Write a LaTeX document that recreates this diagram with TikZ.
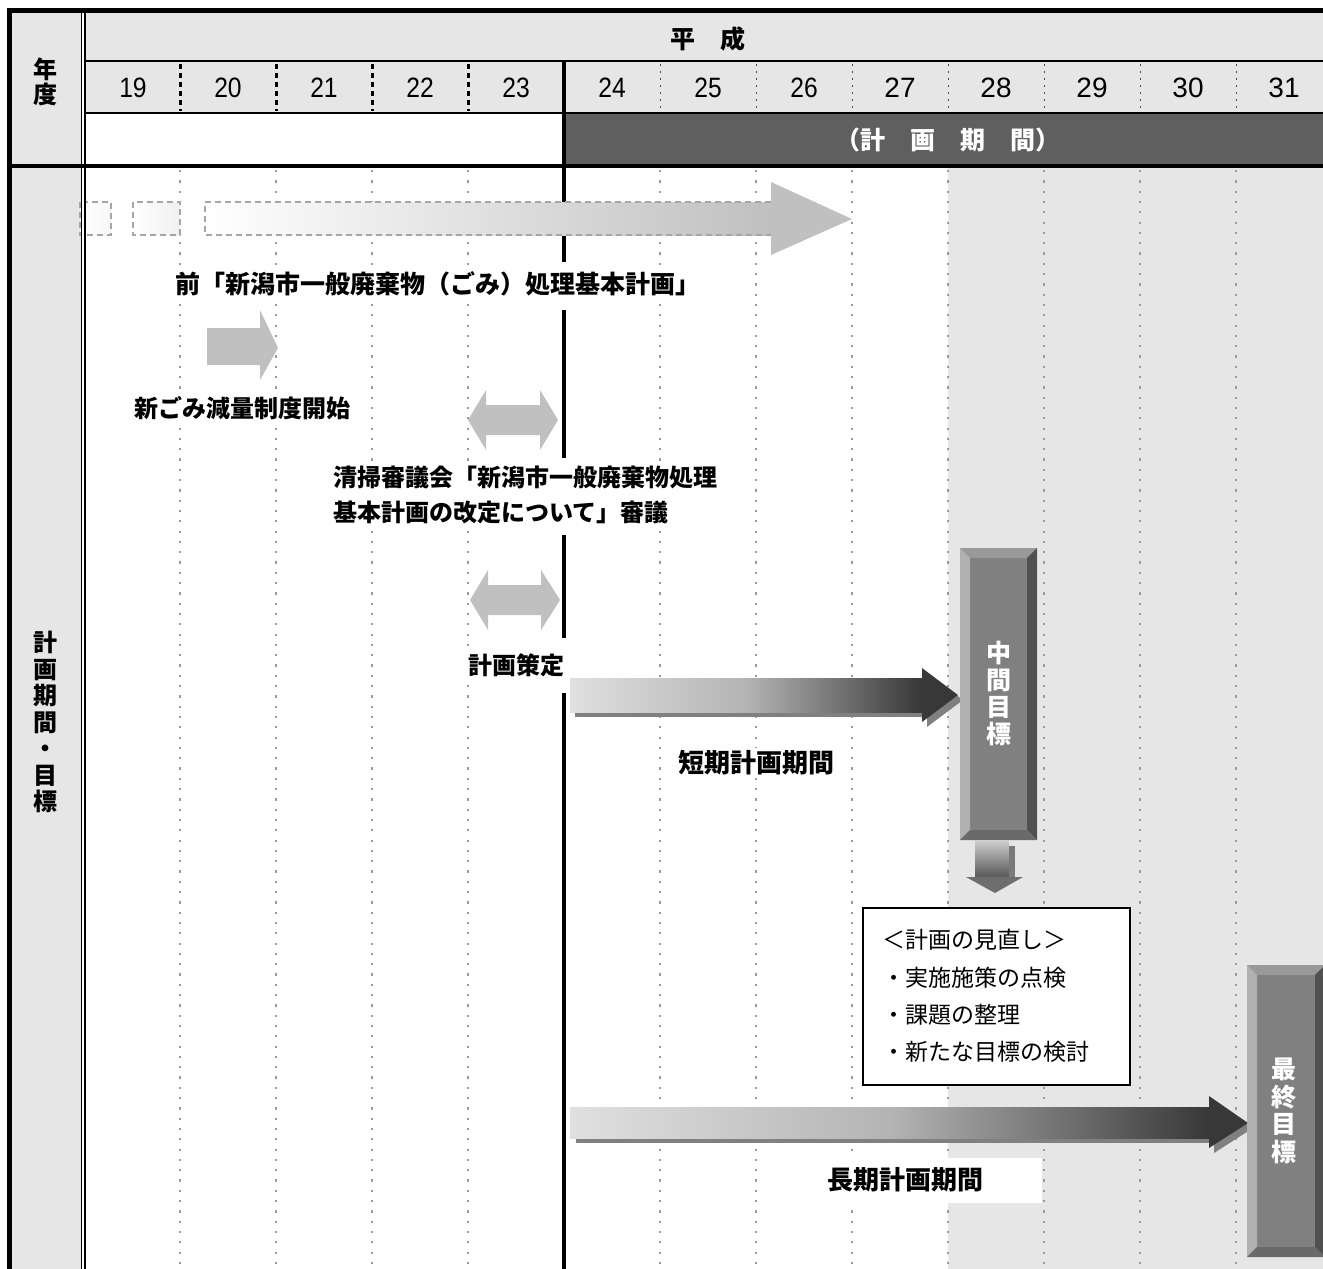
\documentclass[tikz,border=0pt]{standalone}
\usepackage{fontspec}
\setmainfont{Liberation Sans}
\newfontfamily\jp{Noto Sans CJK JP}
\usetikzlibrary{calc}
\definecolor{hdr}{HTML}{E6E6E6}
\definecolor{darkbar}{HTML}{5F5F5F}
\definecolor{dotc}{HTML}{9A9A9A}
\definecolor{lite}{HTML}{C0C0C0}
\definecolor{dashc}{HTML}{A6A6A6}
\definecolor{arlight}{HTML}{E0E0E0}
\definecolor{armid}{HTML}{B4B4B4}
\definecolor{ardark}{HTML}{383838}
\definecolor{arshadow}{HTML}{808080}
\definecolor{face}{HTML}{808080}
\definecolor{bvtop}{HTML}{999999}
\definecolor{bvleft}{HTML}{B0B0B0}
\definecolor{bvright}{HTML}{505050}
\definecolor{bvbottom}{HTML}{6A6A6A}
\definecolor{dntop}{HTML}{D0D0D0}
\definecolor{dnbot}{HTML}{555555}
\definecolor{dnside}{HTML}{7A7A7A}
\definecolor{dnhead}{HTML}{6E6E6E}
\newcommand\bevelize[1]{%
  \fill[bvtop] (#1.north west) -- (#1.north east) -- ($(#1.north east)+(-10,10)$) -- ($(#1.north west)+(10,10)$) -- cycle;
  \fill[bvleft] (#1.north west) -- ($(#1.north west)+(10,10)$) -- ($(#1.south west)+(10,-10)$) -- (#1.south west) -- cycle;
  \fill[bvright] (#1.north east) -- ($(#1.north east)+(-10,10)$) -- ($(#1.south east)+(-10,-10)$) -- (#1.south east) -- cycle;
  \fill[bvbottom] (#1.south west) -- ($(#1.south west)+(10,-10)$) -- ($(#1.south east)+(-10,-10)$) -- (#1.south east) -- cycle;
}
\begin{document}
\begin{tikzpicture}[x=1pt,y=-1pt,
  lbl/.style={font=\jp\bfseries\fontsize{24}{26}\selectfont, fill=white, inner sep=3pt},
  yr/.style={font=\fontsize{28}{30}\selectfont, inner sep=0},
  goal/.style={fill=face, draw=none, text=white, font=\jp\bfseries\fontsize{25}{27}\selectfont, align=center, inner sep=0, outer sep=0, anchor=north west},
  dotline/.style={dotc, line width=2.2, dash pattern=on 2.2pt off 8.1pt},
  yrdash/.style={black, line width=3, dash pattern=on 5pt off 4pt},
  yrdot/.style={black!70, line width=1, dash pattern=on 2pt off 5pt},
  dashbox/.style={dashc, line width=1.2, dash pattern=on 6pt off 4pt},
  frame/.style={black, line width=#1},
]
\useasboundingbox (0,0) rectangle (1323,1269);
\clip (0,0) rectangle (1323,1269);
% backgrounds
\fill[hdr] (12,12) rectangle (81,1269);
\fill[hdr] (86,12) rectangle (1323,113);
\fill[darkbar] (564,113) rectangle (1323,166);
\fill[hdr] (948,168) rectangle (1323,1269);
% grid lines
\foreach \x in {180,276,372,468} \draw[yrdash] (\x,64) -- (\x,111);
\foreach \x in {660,756,852,948,1044,1140,1236} \draw[yrdot] (\x,64) -- (\x,111);
\foreach \x in {180,276,372,468,660,756,852,948,1044,1140,1236} \draw[dotline] (\x,170) -- (\x,1269);
% thick plan start line
\draw[line width=4] (564,61) -- (564,262) (564,310) -- (564,458) (564,535) -- (564,638) (564,693) -- (564,1269);
% previous plan arrow
\shade[left color=white, right color=white!97!black] (80,202) rectangle (111,235);
\draw[dashbox] (80,202) rectangle (111,235);
\shade[left color=white, right color=white!94!black] (133,202) rectangle (180,235);
\draw[dashbox] (133,202) rectangle (180,235);
\shade[left color=white, right color=lite] (205,202) rectangle (771,235);
\draw[dashbox] (771,202) -- (205,202) -- (205,235) -- (771,235);
\fill[lite] (771,182) -- (852,219) -- (771,255) -- cycle;
% new system arrow
\fill[lite] (207,328) -- (260,328) -- (260,310) -- (278,348) -- (260,380) -- (260,365) -- (207,365) -- cycle;
% double arrows
\fill[lite] (468,420) -- (486,390) -- (486,405) -- (540,405) -- (540,390) -- (558,420) -- (540,450) -- (540,435) -- (486,435) -- (486,450) -- cycle;
\fill[lite] (470,600) -- (488,570) -- (488,585) -- (541,585) -- (541,570) -- (560,600) -- (541,630) -- (541,615) -- (488,615) -- (488,630) -- cycle;
% short term arrow
\fill[arshadow] (575,683) rectangle (927,717);
\fill[arshadow] (927,673) -- (963,700) -- (927,727) -- cycle;
\shade[left color=arlight, right color=ardark, middle color=armid] (570,678) rectangle (922,712);
\fill[ardark] (922,668) -- (958,695) -- (922,722) -- cycle;
% long term arrow
\fill[arshadow] (576,1112) rectangle (1214,1143);
\fill[arshadow] (1214,1101) -- (1253,1128) -- (1214,1153) -- cycle;
\shade[left color=arlight, right color=ardark, middle color=armid] (570,1107) rectangle (1209,1138);
\fill[ardark] (1209,1096) -- (1248,1123) -- (1209,1148) -- cycle;
% goal boxes
\node[goal, minimum width=77, minimum height=292] (mid) at (960,548) {};
\bevelize{mid}
\node[goal, minimum width=78, minimum height=292] (fin) at (1247,965) {};
\bevelize{fin}
\node[font=\jp\bfseries\fontsize{25}{27}\selectfont, text=white, align=center, inner sep=0] (midtxt) at (mid.center) {中\\間\\目\\標};
\node[font=\jp\bfseries\fontsize{25}{27.5}\selectfont, text=white, align=center, inner sep=0] (fintxt) at ($(fin.center)+(-2,0)$) {最\\終\\目\\標};
% down arrow
\shade[top color=dntop, bottom color=dnbot] (975,840) rectangle (1009,878);
\fill[dnside] (1009,846) rectangle (1015,878);
\fill[dnhead] (966,877) -- (1023,877) -- (995,893) -- cycle;
% review box
\node[draw, line width=1.8, fill=white, minimum width=267, minimum height=177, anchor=north west, inner sep=0] (review) at (862,907) {};
\node[font=\jp\fontsize{23}{37.3}\selectfont, align=left, anchor=west, inner sep=0] (reviewtxt) at (882,996) {＜計画の見直し＞\\・実施施策の点検\\・課題の整理\\・新たな目標の検討};
% labels
\node[lbl, font=\jp\bfseries\fontsize{25}{26}\selectfont] (prevlbl) at (438,284) {前「新潟市一般廃棄物（ごみ）処理基本計画」};
\node[lbl] (newlbl) at (242,408) {新ごみ減量制度開始};
\node[lbl, align=left, anchor=west, font=\jp\bfseries\fontsize{24}{35}\selectfont] (shingi) at (330,495) {清掃審議会「新潟市一般廃棄物処理\\基本計画の改定について」審議};
\node[lbl] (sakutei) at (516,665) {計画策定};
\node[lbl, font=\jp\bfseries\fontsize{26}{28}\selectfont] (shortlbl) at (756,763) {短期計画期間};
\node[lbl, font=\jp\bfseries\fontsize{26}{28}\selectfont, anchor=west, minimum height=45, text width=203, inner xsep=12, align=left] (longlbl) at (815,1180) {長期計画期間};
% header texts
\node[font=\jp\bfseries\fontsize{25}{25}\selectfont] (heisei) at (708,39) {平　成};
\node[font=\jp\bfseries\fontsize{25}{25}\selectfont, text=white] (kikan) at (948,140) {（計　画　期　間）};
\node[font=\jp\bfseries\fontsize{24}{25}\selectfont, align=center] (nendo) at (46,82) {年\\度};
\node[font=\jp\bfseries\fontsize{24}{26.5}\selectfont, align=center] (side) at (46,722) {計\\画\\期\\間\\・\\目\\標};
\foreach \n/\x in {19/133,20/228,21/324,22/420,23/516,24/612,25/708,26/804}
  \node[yr] (y\n) at (\x,88) {\scalebox{0.88}[1]{\n}};
\foreach \n/\x in {27/900,28/996,29/1092,30/1188,31/1284}
  \node[yr] (y\n) at (\x,88) {\n};
% frame
\fill[white] (81,10) rectangle (86,1269);
\draw[frame=1.5] (81.5,10) -- (81.5,1269);
\draw[frame=2] (84.8,10) -- (84.8,1269);
\draw[frame=2] (86,61) -- (1323,61);
\draw[frame=2] (86,113) -- (1323,113);
\draw[frame=4] (7,166) -- (1323,166);
\draw[frame=5] (7,10.5) -- (1323,10.5);
\draw[frame=5] (9.5,8) -- (9.5,1269);
\end{tikzpicture}
\end{document}
